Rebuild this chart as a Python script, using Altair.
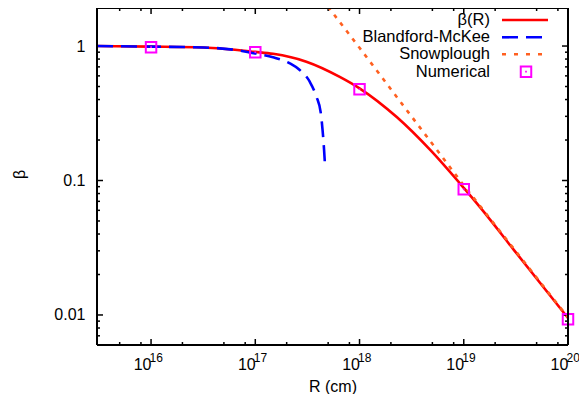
import altair as alt
import pandas as pd

# ---------------- data ----------------
beta_R = [3.03e15, 1e16, 3.2e16, 1e17, 1.48e17, 3.09e17, 6.46e17, 1e18, 2.29e18,
          4.79e18, 1e19, 1.45e19, 3.02e19, 1e20]
beta_val = [1.0, 0.99, 0.975, 0.905, 0.875, 0.765, 0.59, 0.485, 0.295,
            0.168, 0.088, 0.0625, 0.0305, 0.0095]

bm_R = [3.03e15, 1e16, 3.2e16, 7.1e16, 1.03e17, 1.48e17, 2.14e17, 2.67e17, 3.33e17,
        3.86e17, 4.25e17, 4.42e17, 4.57e17, 4.68e17]
bm_val = [1.0, 0.99, 0.975, 0.925, 0.875, 0.824, 0.744, 0.663, 0.543,
          0.420, 0.318, 0.237, 0.169, 0.124]

snow_R = [4.99e17, 1e18, 1e19, 1e20]
snow_val = [1.96, 0.97, 0.092, 0.0096]

num_R = [1e16, 1e17, 1e18, 1e19, 1e20]
num_val = [0.98, 0.90, 0.478, 0.086, 0.0093]

legend_labels = ["β(R)", "Blandford-McKee", "Snowplough", "Numerical"]

x_major = [1e16, 1e17, 1e18, 1e19, 1e20]
x_exponents = ["16", "17", "18", "19", "20"]
y_major = [0.01, 0.1, 1]

X_DOMAIN = [3.03e15, 1e20]
Y_DOMAIN = [0.00598, 1.918]

# ---------------- layout / style ----------------
W, H = 471, 337
FONT = "Liberation Sans"
RED, BLUE, ORANGE, MAG = "#ff0000", "#0000ff", "#ff6020", "#ff00ff"

x_minor = [m * 10.0 ** k for k in range(15, 20) for m in (2, 5, 8)
           if X_DOMAIN[0] <= m * 10.0 ** k <= X_DOMAIN[1]]
y_minor = [m * 10.0 ** k for k in range(-3, 1) for m in range(2, 10)
           if Y_DOMAIN[0] <= m * 10.0 ** k <= Y_DOMAIN[1]]

xs = alt.Scale(type="log", domain=X_DOMAIN, nice=False)
ys = alt.Scale(type="log", domain=Y_DOMAIN, nice=False)

df_beta = pd.DataFrame({"R": beta_R, "b": beta_val})
df_bm = pd.DataFrame({"R": bm_R, "b": bm_val})
df_snow = pd.DataFrame({"R": snow_R, "b": snow_val})
df_num = pd.DataFrame({"R": num_R, "b": num_val})
df_exp = pd.DataFrame({"R": x_major, "e": x_exponents})

X = alt.X("R:Q", scale=xs)
Y = alt.Y("b:Q", scale=ys)

main = alt.Chart(df_beta).mark_line(color=RED, strokeWidth=2.6, clip=True,
                                    interpolate="monotone").encode(
    x=alt.X("R:Q", scale=xs, title="R (cm)",
            axis=alt.Axis(values=x_major, labelExpr="'10'", ticks=False,
                          domain=False, grid=False, labelPadding=11, labelOffset=-9,
                          titlePadding=6, labelFlush=False)),
    y=alt.Y("b:Q", scale=ys, title="β",
            axis=alt.Axis(values=y_major, format="~g", ticks=False, domain=False,
                          grid=False, labelPadding=12, titlePadding=26, titleY=166)),
)

# exponents of the x tick labels (superscripts)
sup = alt.Chart(df_exp).mark_text(align="left", baseline="top", font=FONT, fontSize=12,
                                  color="black", dx=-1.5).encode(
    x=X, y=alt.value(H + 7.5), text="e:N")

bm = alt.Chart(df_bm).mark_line(color=BLUE, strokeWidth=2.6, strokeDash=[16, 8],
                                clip=True, interpolate="monotone").encode(x=X, y=Y)

snow = alt.Chart(df_snow).mark_line(color=ORANGE, strokeWidth=2.6, strokeDash=[4, 6],
                                    clip=True).encode(x=X, y=Y)

num = alt.Chart(df_num).mark_square(filled=False, color=MAG, size=110, opacity=1,
                                    strokeWidth=2).encode(x=X, y=Y)
num_dot = alt.Chart(df_num).mark_square(filled=True, color=MAG, size=3,
                                        opacity=1).encode(x=X, y=Y)

# ---------------- ticks (inward, mirrored) ----------------
def xticks(vals, ln):
    d = pd.DataFrame({"R": vals})
    bot = alt.Chart(d).mark_rule(color="black", strokeWidth=1.5).encode(
        x=X, y=alt.value(H), y2=alt.value(H - ln))
    top = alt.Chart(d).mark_rule(color="black", strokeWidth=1.5).encode(
        x=X, y=alt.value(0), y2=alt.value(ln))
    return [bot, top]

def yticks(vals, ln):
    d = pd.DataFrame({"b": vals})
    lft = alt.Chart(d).mark_rule(color="black", strokeWidth=1.5).encode(
        y=Y, x=alt.value(0), x2=alt.value(ln))
    rgt = alt.Chart(d).mark_rule(color="black", strokeWidth=1.5).encode(
        y=Y, x=alt.value(W), x2=alt.value(W - ln))
    return [lft, rgt]

ticks = xticks(x_major, 6) + xticks(x_minor, 3) + yticks(y_major, 6) + yticks(y_minor, 3)

one = pd.DataFrame({"a": [0]})
frame = [
    alt.Chart(one).mark_rule(color="black", strokeWidth=2).encode(
        x=alt.value(0), x2=alt.value(W), y=alt.value(0)),
    alt.Chart(one).mark_rule(color="black", strokeWidth=2).encode(
        x=alt.value(0), x2=alt.value(W), y=alt.value(H)),
    alt.Chart(one).mark_rule(color="black", strokeWidth=2).encode(
        y=alt.value(0), y2=alt.value(H), x=alt.value(0)),
    alt.Chart(one).mark_rule(color="black", strokeWidth=2).encode(
        y=alt.value(0), y2=alt.value(H), x=alt.value(W)),
]

# ---------------- legend (top right, labels left of samples) ----------------
LY = [12, 29.3, 46.3, 63.7]
TX, S1, S2, SQ = 393, 405, 451, 429
leg = []
for lab, ly in zip(legend_labels, LY):
    leg.append(alt.Chart(pd.DataFrame({"t": [lab]})).mark_text(
        align="right", baseline="middle", font=FONT, fontSize=16.5, color="black").encode(
        x=alt.value(TX), y=alt.value(ly), text="t:N"))
leg.append(alt.Chart(one).mark_rule(color=RED, strokeWidth=2.6).encode(
    x=alt.value(S1), x2=alt.value(S2), y=alt.value(LY[0])))
leg.append(alt.Chart(one).mark_rule(color=BLUE, strokeWidth=2.6, strokeDash=[16, 8]).encode(
    x=alt.value(S1), x2=alt.value(S2), y=alt.value(LY[1])))
leg.append(alt.Chart(one).mark_rule(color=ORANGE, strokeWidth=2.6, strokeDash=[4, 8]).encode(
    x=alt.value(S1), x2=alt.value(S2), y=alt.value(LY[2])))
leg.append(alt.Chart(one).mark_square(filled=False, color=MAG, size=110, opacity=1,
                                      strokeWidth=2).encode(
    x=alt.value(SQ), y=alt.value(LY[3])))
leg.append(alt.Chart(one).mark_square(filled=True, color=MAG, size=3, opacity=1).encode(
    x=alt.value(SQ), y=alt.value(LY[3])))

chart = alt.layer(main, *ticks, bm, snow, num, num_dot, *frame, sup, *leg).properties(
    width=W, height=H,
    background="white",
    autosize=alt.AutoSizeParams(type="none"),
    padding={"left": 89, "top": 0, "right": 11, "bottom": 49},
).configure_view(stroke=None).configure_axis(
    labelFont=FONT, labelFontSize=16, labelColor="black",
    titleFont=FONT, titleFontSize=16, titleColor="black", titleFontWeight="normal",
)

chart.save("out.html", embed_options={"renderer": "svg", "actions": False})
